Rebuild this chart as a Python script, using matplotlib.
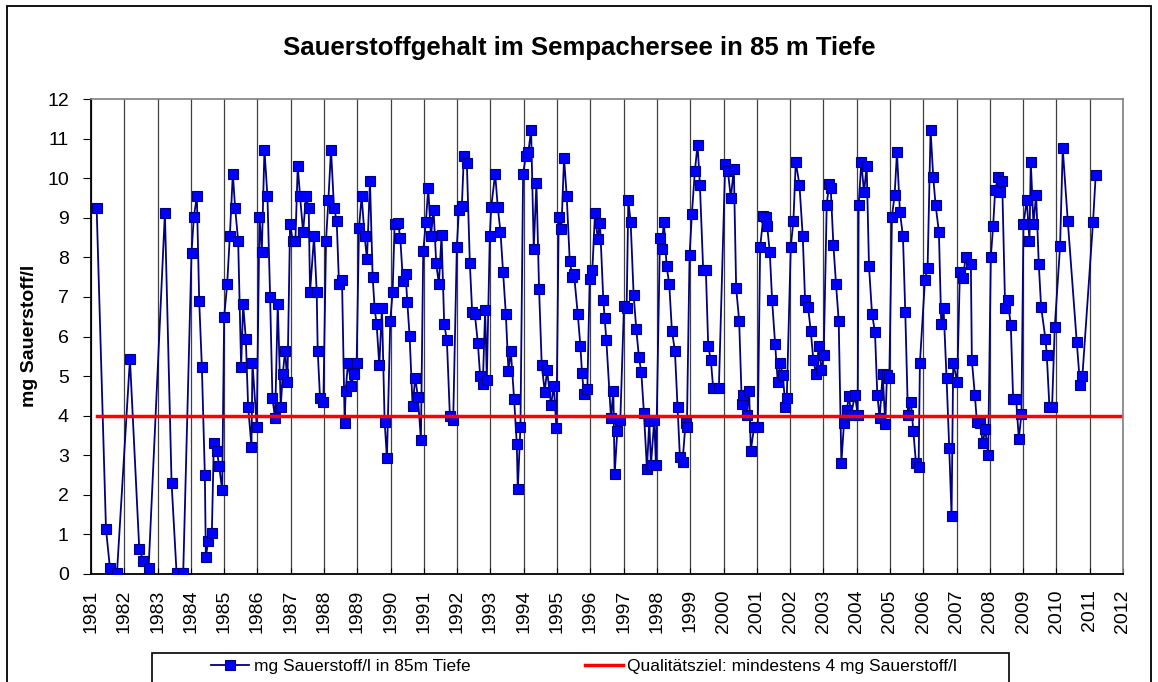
import matplotlib
matplotlib.use("Agg")
import matplotlib.pyplot as plt
from matplotlib.patches import Rectangle

plt.rcParams['font.family'] = ['Liberation Sans', 'DejaVu Sans']

# Sauerstoff in 85 m Tiefe (Dezimaljahr, mg/l)
years = [
    1981.17, 1981.45, 1981.57, 1981.78, 1982.17, 1982.45, 1982.57, 1982.73,
    1983.22, 1983.42, 1983.57, 1983.77, 1984.02, 1984.09, 1984.18, 1984.25,
    1984.33, 1984.42, 1984.45, 1984.52, 1984.63, 1984.69, 1984.78, 1984.85,
    1984.94, 1985.00, 1985.09, 1985.17, 1985.26, 1985.33, 1985.42, 1985.51,
    1985.57, 1985.65, 1985.72, 1985.82, 1985.85, 1985.98, 1986.06, 1986.13,
    1986.21, 1986.30, 1986.38, 1986.45, 1986.53, 1986.61, 1986.70, 1986.76,
    1986.83, 1986.90, 1986.98, 1987.06, 1987.14, 1987.21, 1987.28, 1987.37,
    1987.46, 1987.54, 1987.58, 1987.70, 1987.78, 1987.81, 1987.88, 1987.98,
    1988.06, 1988.13, 1988.21, 1988.30, 1988.38, 1988.45, 1988.54, 1988.62,
    1988.65, 1988.72, 1988.82, 1988.89, 1988.98, 1989.05, 1989.13, 1989.22,
    1989.29, 1989.38, 1989.46, 1989.52, 1989.58, 1989.66, 1989.74, 1989.82,
    1989.89, 1989.99, 1990.06, 1990.12, 1990.22, 1990.29, 1990.37, 1990.45,
    1990.50, 1990.57, 1990.66, 1990.74, 1990.82, 1990.91, 1990.98, 1991.06,
    1991.13, 1991.21, 1991.29, 1991.37, 1991.45, 1991.53, 1991.61, 1991.69,
    1991.78, 1991.88, 1991.99, 1992.05, 1992.14, 1992.20, 1992.29, 1992.38,
    1992.45, 1992.53, 1992.62, 1992.69, 1992.77, 1992.84, 1992.89, 1992.98,
    1993.02, 1993.14, 1993.22, 1993.30, 1993.38, 1993.46, 1993.54, 1993.61,
    1993.71, 1993.79, 1993.82, 1993.90, 1993.98, 1994.06, 1994.14, 1994.22,
    1994.30, 1994.38, 1994.46, 1994.54, 1994.63, 1994.70, 1994.82, 1994.90,
    1994.98, 1995.05, 1995.13, 1995.21, 1995.29, 1995.38, 1995.46, 1995.51,
    1995.62, 1995.70, 1995.75, 1995.81, 1995.91, 1995.98, 1996.06, 1996.14,
    1996.22, 1996.29, 1996.39, 1996.43, 1996.48, 1996.62, 1996.69, 1996.73,
    1996.81, 1996.90, 1997.01, 1997.09, 1997.14, 1997.21, 1997.30, 1997.38,
    1997.46, 1997.53, 1997.61, 1997.70, 1997.77, 1997.82, 1997.92, 1997.97,
    1998.09, 1998.14, 1998.21, 1998.29, 1998.37, 1998.45, 1998.54, 1998.62,
    1998.69, 1998.77, 1998.86, 1998.90, 1998.98, 1999.05, 1999.14, 1999.22,
    1999.29, 1999.39, 1999.47, 1999.54, 1999.62, 1999.69, 1999.86, 2000.05,
    2000.13, 2000.22, 2000.31, 2000.38, 2000.47, 2000.55, 2000.58, 2000.70,
    2000.77, 2000.82, 2000.92, 2001.03, 2001.10, 2001.20, 2001.27, 2001.31,
    2001.39, 2001.46, 2001.55, 2001.63, 2001.70, 2001.78, 2001.86, 2001.90,
    2002.02, 2002.10, 2002.17, 2002.28, 2002.38, 2002.45, 2002.54, 2002.62,
    2002.70, 2002.78, 2002.86, 2002.94, 2003.01, 2003.10, 2003.17, 2003.22,
    2003.30, 2003.38, 2003.46, 2003.54, 2003.62, 2003.70, 2003.77, 2003.83,
    2003.95, 2004.03, 2004.06, 2004.14, 2004.22, 2004.30, 2004.37, 2004.46,
    2004.55, 2004.62, 2004.69, 2004.78, 2004.86, 2004.91, 2004.98, 2005.06,
    2005.14, 2005.21, 2005.30, 2005.39, 2005.46, 2005.54, 2005.63, 2005.70,
    2005.78, 2005.86, 2005.90, 2006.05, 2006.13, 2006.22, 2006.30, 2006.37,
    2006.47, 2006.54, 2006.61, 2006.70, 2006.78, 2006.85, 2006.90, 2007.02,
    2007.10, 2007.19, 2007.28, 2007.43, 2007.46, 2007.55, 2007.61, 2007.70,
    2007.79, 2007.86, 2007.95, 2008.03, 2008.10, 2008.16, 2008.25, 2008.31,
    2008.37, 2008.46, 2008.54, 2008.63, 2008.70, 2008.79, 2008.87, 2008.95,
    2009.01, 2009.11, 2009.19, 2009.23, 2009.31, 2009.39, 2009.47, 2009.54,
    2009.67, 2009.71, 2009.79, 2009.87, 2009.95, 2010.11, 2010.19, 2010.34,
    2010.61, 2010.71, 2010.78, 2011.10, 2011.18,
]
oxygen = [
    9.24, 1.14, 0.14, 0.03, 5.43, 0.63, 0.34, 0.14,
    9.13, 2.31, 0.03, 0.03, 8.12, 9.03, 9.54, 6.90,
    5.24, 2.50, 0.44, 0.83, 1.04, 3.32, 3.11, 2.73,
    2.11, 6.50, 7.32, 8.53, 10.11, 9.24, 8.42, 5.24,
    6.82, 5.94, 4.23, 3.22, 5.34, 3.72, 9.03, 8.13,
    10.72, 9.54, 7.01, 4.44, 3.93, 6.82, 4.23, 5.05,
    5.64, 4.84, 8.84, 8.42, 8.42, 10.31, 9.54, 8.64,
    9.54, 9.24, 7.12, 8.53, 7.12, 5.64, 4.44, 4.34,
    8.42, 9.44, 10.72, 9.24, 8.93, 7.32, 7.43, 3.82,
    4.63, 5.34, 4.76, 5.05, 5.34, 8.74, 9.54, 8.53,
    7.95, 9.94, 7.51, 6.71, 6.31, 5.27, 6.71, 3.85,
    2.92, 6.40, 7.12, 8.84, 8.86, 8.50, 7.39, 7.59,
    6.88, 6.02, 4.25, 4.95, 4.47, 3.39, 8.16, 8.89,
    9.75, 8.53, 9.20, 7.85, 7.32, 8.57, 6.31, 5.91,
    4.00, 3.89, 8.27, 9.20, 9.30, 10.55, 10.38, 7.85,
    6.61, 6.57, 5.84, 5.00, 4.81, 6.67, 4.90, 8.53,
    9.26, 10.11, 9.26, 8.64, 7.62, 6.58, 5.13, 5.64,
    4.42, 3.29, 2.14, 3.72, 10.11, 10.55, 10.67, 11.22,
    8.22, 9.87, 7.19, 5.27, 4.61, 5.15, 4.27, 4.76,
    3.70, 9.03, 8.71, 10.51, 9.54, 7.92, 7.51, 7.57,
    6.58, 5.77, 5.07, 4.54, 4.67, 7.46, 7.68, 9.13,
    8.47, 8.86, 6.91, 6.48, 5.91, 3.93, 4.63, 2.52,
    3.62, 3.89, 6.78, 6.73, 9.44, 8.90, 7.05, 6.18,
    5.47, 5.10, 4.06, 2.65, 3.87, 2.75, 3.89, 2.75,
    8.50, 8.22, 8.90, 7.78, 7.32, 6.14, 5.64, 4.23,
    2.95, 2.84, 3.82, 3.72, 8.05, 9.10, 10.18, 10.85,
    9.84, 7.67, 7.68, 5.77, 5.40, 4.69, 4.69, 10.35,
    10.19, 9.50, 10.24, 7.22, 6.40, 4.29, 4.52, 4.02,
    4.63, 3.12, 3.72, 3.72, 8.26, 9.05, 9.03, 8.80,
    8.13, 6.91, 5.80, 4.84, 5.34, 5.03, 4.23, 4.44,
    8.26, 8.93, 10.41, 9.84, 8.53, 6.92, 6.75, 6.14,
    5.40, 5.05, 5.75, 5.16, 5.54, 9.33, 9.85, 9.75,
    8.32, 7.32, 6.40, 2.81, 3.82, 4.14, 4.50, 4.02,
    4.52, 4.02, 9.33, 10.41, 9.64, 10.31, 7.78, 6.58,
    6.11, 4.52, 3.93, 5.06, 3.79, 5.03, 4.95, 9.03,
    9.58, 10.65, 9.14, 8.53, 6.61, 4.02, 4.34, 3.62,
    2.81, 2.70, 5.34, 7.42, 7.73, 11.22, 10.02, 9.33,
    8.64, 6.31, 6.71, 4.95, 3.19, 1.47, 5.34, 4.84,
    7.62, 7.49, 8.02, 7.83, 5.40, 4.52, 3.85, 3.81,
    3.32, 3.66, 3.01, 8.02, 8.80, 9.71, 10.02, 9.64,
    9.93, 6.71, 6.91, 6.28, 4.42, 4.42, 3.42, 4.04,
    8.84, 9.44, 8.42, 10.41, 8.84, 9.58, 7.83, 6.75,
    5.94, 5.54, 4.21, 4.23, 6.24, 8.29, 10.75, 8.93,
    5.87, 4.78, 5.00, 8.90, 10.08,
]

# Qualitaetsziel
goal_years = [1981.17, 2011.91]
goal_values = [4, 4]

year_ticks = list(range(1981, 2013))
y_ticks = list(range(0, 13))

fig = plt.figure(figsize=(11.58, 6.82), dpi=100)
ax = fig.add_axes([91 / 1158, 1 - 574 / 682, (1123 - 91) / 1158, (574 - 99) / 682])

ax.plot(years, oxygen, color='#000080', lw=1.3, marker='s', markersize=7.5,
        markerfacecolor='#0000FF', markeredgecolor='#000080', markeredgewidth=0.8,
        label='mg Sauerstoff/l in 85m Tiefe', zorder=3)
ax.plot(goal_years, goal_values, color='#FF0000', lw=2.5,
        label='Qualitätsziel: mindestens 4 mg Sauerstoff/l', zorder=4)

ax.set_xlim(1981, 2012)
ax.set_ylim(0, 12)
ax.set_xticks(year_ticks)
ax.set_xticklabels([str(y) for y in year_ticks], rotation=90, fontsize=14)
ax.set_yticks(y_ticks)
ax.set_yticklabels([str(v) for v in y_ticks], fontsize=14)
ax.tick_params(axis='x', direction='in', length=4, pad=11)
ax.tick_params(axis='y', direction='out', length=6, pad=10)
ax.grid(axis='x', color='#404040', lw=0.9)
ax.set_axisbelow(True)

for side in ['left', 'bottom']:
    ax.spines[side].set_color('black')
    ax.spines[side].set_linewidth(1.3)
for side in ['top', 'right']:
    ax.spines[side].set_color('#808080')
    ax.spines[side].set_linewidth(1.2)

fig.text(0.5, 1 - 48 / 682, 'Sauerstoffgehalt im Sempachersee in 85 m Tiefe',
         ha='center', va='center', fontsize=18.5, fontweight='bold')
fig.text(30 / 1158, 1 - 336 / 682, 'mg Sauerstoff/l', rotation=90,
         ha='center', va='center', fontsize=14, fontweight='bold')

# Legende ohne eigenen Rahmen, Rahmen separat wie im Excel-Diagramm
leg = fig.legend(loc='center left', ncol=2,
                 bbox_to_anchor=(211 / 1158, 1 - 666 / 682),
                 fontsize=12.5, frameon=False, handlelength=2.2,
                 borderpad=0, handletextpad=0.25, columnspacing=6.6,
                 borderaxespad=0)

fig.patches.append(Rectangle((152 / 1158, 1 - 682 / 682 - 0.02), (1009 - 152) / 1158,
                             (682 - 653) / 682 + 0.02, transform=fig.transFigure,
                             fill=False, edgecolor='black', lw=1.2))
fig.patches.append(Rectangle((7 / 1158, -0.05), (1151 - 7) / 1158, 1.05 - 6 / 682,
                             transform=fig.transFigure, fill=False,
                             edgecolor='black', lw=1.3))

fig.savefig('out.png', dpi=100)
